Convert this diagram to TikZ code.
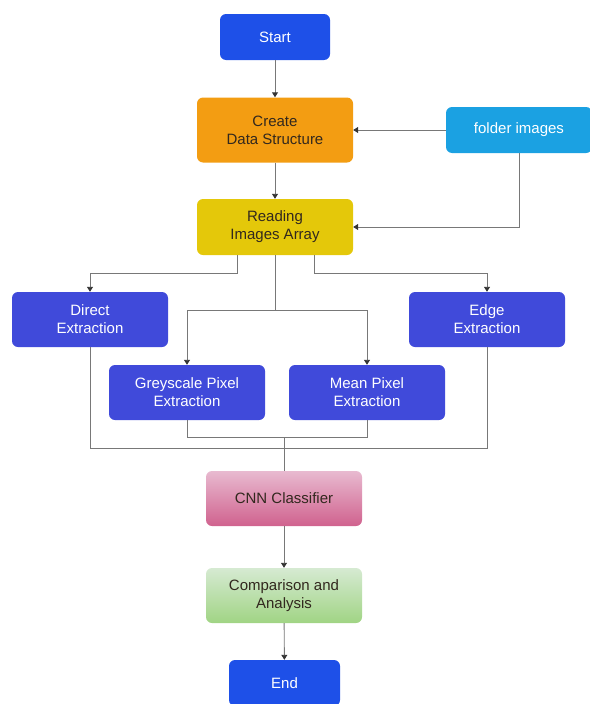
\documentclass[tikz,border=0pt]{standalone}
\usepackage{fontspec}
\setmainfont{Liberation Sans}
\usetikzlibrary{arrows.meta}
\definecolor{startblue}{RGB}{30,80,232}
\definecolor{extblue}{RGB}{64,74,218}
\definecolor{createor}{RGB}{243,157,18}
\definecolor{readyel}{RGB}{228,200,10}
\definecolor{foldblue}{RGB}{27,161,226}
\definecolor{pinktop}{RGB}{232,186,208}
\definecolor{pinkbot}{RGB}{208,98,142}
\definecolor{greentop}{RGB}{214,234,210}
\definecolor{greenbot}{RGB}{160,212,132}
\definecolor{linegray}{RGB}{120,120,120}
\definecolor{darktext}{RGB}{50,40,30}
\begin{document}
\begin{tikzpicture}[x=1pt,y=-1pt,
  box/.style={rounded corners=6pt, minimum width=156pt, minimum height=55pt,
    align=center, inner sep=0pt, font=\fontsize{15}{18}\selectfont},
  whitetext/.style={text=white},
  darkbox/.style={text=darktext},
  conn/.style={draw=linegray, line width=0.9pt},
  arr/.style={conn, -{Triangle[width=6pt,length=5pt,color=black!80]}}
]
\useasboundingbox (0,0) rectangle (589,704);

\node[box, whitetext, fill=startblue, minimum width=110pt, minimum height=46pt] (start) at (275,37) {Start};
\node[box, darkbox, fill=createor, minimum height=65pt] (create) at (275,130) {Create\\Data Structure};
\node[box, whitetext, fill=foldblue, minimum width=146pt, minimum height=46pt] (folder) at (519,130) {folder images};
\node[box, darkbox, fill=readyel, minimum height=56pt] (read) at (275,227) {Reading\\Images Array};

\node[box, whitetext, fill=extblue] (direct) at (90,319.5) {Direct\\Extraction};
\node[box, whitetext, fill=extblue] (edge) at (487,319.5) {Edge\\Extraction};
\node[box, whitetext, fill=extblue] (grey) at (187,392.5) {Greyscale Pixel\\Extraction};
\node[box, whitetext, fill=extblue] (mean) at (367,392.5) {Mean Pixel\\Extraction};

\node[box, darkbox, top color=pinktop, bottom color=pinkbot] (cnn) at (284,498.5) {CNN Classifier};
\node[box, darkbox, top color=greentop, bottom color=greenbot] (comp) at (284,595.5) {Comparison and\\Analysis};
\node[box, whitetext, fill=startblue, minimum width=111pt, minimum height=46pt] (stop) at (284.5,683) {End};

\coordinate (rl) at (237,255);
\coordinate (rr) at (314,255);
\coordinate (j) at (284,437);

\draw[arr] (start) -- (create);
\draw[arr] (create) -- (read);
\draw[arr] (folder.west) -- (create.east);
\draw[arr] (folder.south) |- (read.east);
\draw[arr] (rl) -- ++(0,18) -| (direct.north);
\draw[arr] (rr) -- ++(0,18) -| (edge.north);
\draw[arr] (read.south) -- ++(0,55) -| (grey.north);
\draw[arr] (read.south) -- ++(0,55) -| (mean.north);
\draw[conn] (grey.south) -- ++(0,17) -| (mean.south);
\draw[conn] (direct.south) -- ++(0,101) -| (edge.south);
\draw[conn] (j) -- (cnn.north);
\draw[arr] (cnn) -- (comp);
\draw[arr] (comp) -- (stop);
\end{tikzpicture}
\end{document}
